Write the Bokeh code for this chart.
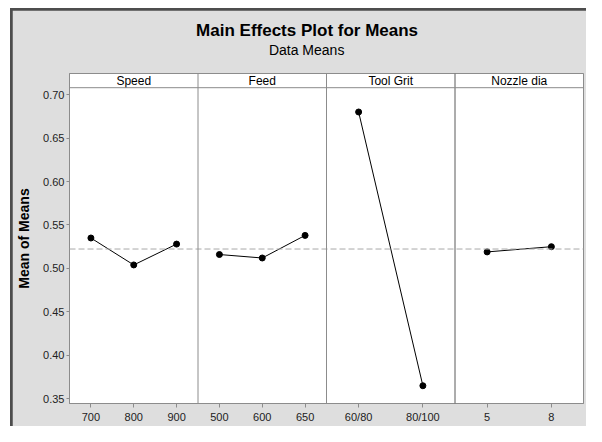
import numpy as np
from bokeh.plotting import figure
from bokeh.models import Range1d, FixedTicker, Span, Title, PrintfTickFormatter
from bokeh.core.properties import value
from bokeh.embed import file_html
from bokeh.resources import INLINE

# ---- data ----
factors = ["Speed", "Feed", "Tool Grit", "Nozzle dia"]
speed_levels = ["700", "800", "900"]
speed_means = [0.535, 0.504, 0.528]
feed_levels = ["500", "600", "650"]
feed_means = [0.516, 0.512, 0.538]
grit_levels = ["60/80", "80/100"]
grit_means = [0.680, 0.365]
nozzle_levels = ["5", "8"]
nozzle_means = [0.519, 0.525]
y_ticks = [0.35, 0.40, 0.45, 0.50, 0.55, 0.60, 0.65, 0.70]

panels = [(speed_levels, speed_means), (feed_levels, feed_means),
          (grit_levels, grit_means), (nozzle_levels, nozzle_means)]
grand_mean = float(np.mean(speed_means))

FONT = "Liberation Sans"
GRAY = "#8c8c8c"
BG = "#dedede"
PW = 12  # x-units per panel

Y_BOTTOM, Y_TOP = 0.34459, 0.72428
STRIP_LINE = 0.70794
STRIP_TEXT = 0.71611

# element box is 586x426; the white edge + dark frame line take 12px / 10px of it
p = figure(width=586, height=426,
           x_range=Range1d(0, PW * len(factors)), y_range=Range1d(Y_BOTTOM, Y_TOP),
           output_backend="svg", toolbar_location=None,
           min_border_left=57, min_border_right=15, min_border_top=63, min_border_bottom=33,
           background_fill_color="white", border_fill_color=BG,
           outline_line_color=GRAY, outline_line_width=1)
p.styles = {"border-left": "10px solid white", "border-top": "8px solid white",
            "padding-left": "2px", "padding-top": "2px",
            "background-color": "#4d4d4d"}
p.xgrid.visible = False
p.ygrid.visible = False

tick_pos = []
overrides = {}
for i, (levels, means) in enumerate(panels):
    n = len(levels)
    xs = [i * PW + PW * (2 * j + 1) / (2 * n) for j in range(n)]
    for xv, lab in zip(xs, levels):
        tick_pos.append(xv)
        overrides[xv] = lab
    p.line(xs, means, line_color="black", line_width=1)
    p.scatter(xs, means, size=6, fill_color="black", line_color="black")

# mean reference line
p.add_layout(Span(location=grand_mean, dimension="width", line_color="#a8a8a8",
                  line_width=1, line_dash="6 3"))
# panel dividers
divider_colors = [GRAY, GRAY, "#5a5a5a"]
for k in range(1, len(factors)):
    p.add_layout(Span(location=k * PW, dimension="height",
                      line_color=divider_colors[k - 1], line_width=1))
# strip headers
p.add_layout(Span(location=STRIP_LINE, dimension="width", line_color=GRAY, line_width=1))
p.text(x=[i * PW + PW / 2 for i in range(len(factors))], y=[STRIP_TEXT] * len(factors),
       text=factors, text_align="center", text_baseline="middle",
       text_font=value(FONT), text_font_size="12px", text_color="black")

# axes
p.xaxis.ticker = FixedTicker(ticks=tick_pos)
p.xaxis.major_label_overrides = overrides
p.yaxis.ticker = FixedTicker(ticks=y_ticks)
p.yaxis.formatter = PrintfTickFormatter(format="%.2f")
for ax in (p.xaxis[0], p.yaxis[0]):
    ax.axis_line_color = GRAY
    ax.major_tick_line_color = GRAY
    ax.minor_tick_line_color = None
    ax.major_tick_in = 0
    ax.major_tick_out = 3
    ax.major_label_standoff = 2
    ax.major_label_text_font = FONT
    ax.major_label_text_font_size = "11px"
    ax.major_label_text_color = "#222222"
p.xaxis.major_tick_out = 4
p.xaxis.major_label_standoff = 3
p.yaxis.axis_label = "Mean of Means"
p.yaxis.axis_label_text_font = FONT
p.yaxis.axis_label_text_font_size = "14px"
p.yaxis.axis_label_text_font_style = "bold"
p.yaxis.axis_label_text_color = "black"
p.yaxis.axis_label_standoff = 8

# titles (stacked outward from the frame: spacer, subtitle, main title)
p.add_layout(Title(text=" ", text_font_size="12.5px", standoff=0), "above")
p.add_layout(Title(text="Data Means", align="left", offset=199.4, standoff=0,
                   text_font=FONT, text_font_size="14px", text_font_style="normal",
                   text_color="black"), "above")
p.add_layout(Title(text="Main Effects Plot for Means", align="left", offset=126.6, standoff=0,
                   text_font=FONT, text_font_size="17px", text_font_style="bold",
                   text_color="black"), "above")

open("out.html", "w").write(file_html(p, INLINE))
